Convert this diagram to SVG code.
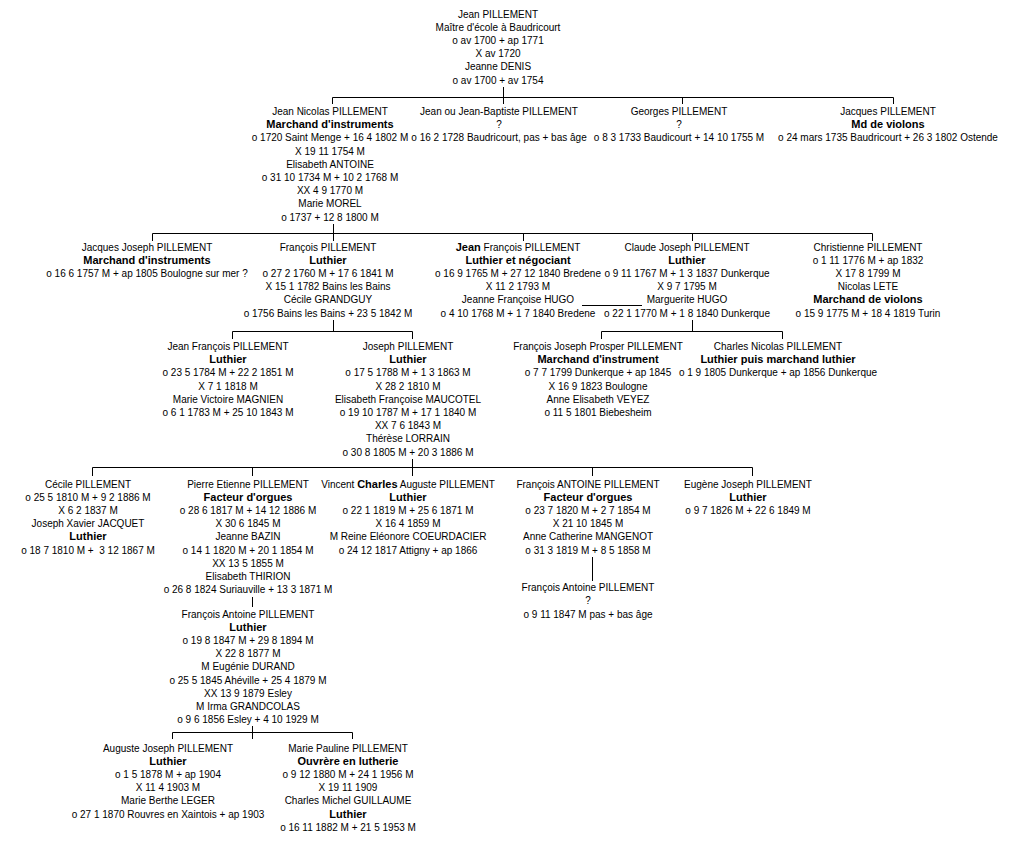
<svg xmlns="http://www.w3.org/2000/svg" width="1013" height="842" viewBox="0 0 1013 842">
<style>
text{font-family:"Liberation Sans",Arial,sans-serif;font-size:10px;fill:#000;text-anchor:middle}
.b{font-weight:bold;font-size:11px}
.c path{stroke:#000;stroke-width:1;fill:none}
</style>
<rect width="1013" height="842" fill="#fff"/>
<g class="c" id="connectors">
<path d="M503.5 87 V104 M332.5 104 V97.5 H893.5 V104 M682.5 97.5 V104"/>
<path d="M333.5 224 V241 M152.5 241 V233.5 H872.5 V241 M523.5 233.5 V241 M692.5 233.5 V241"/>
<path d="M333.5 320 V331.5 M232.5 339 V331.5 H412.5 V339"/>
<path d="M692.5 320 V331.5 M601.5 339 V331.5 H782.5 V339"/>
<path d="M582 305.5 H642"/>
<path d="M412.5 459 V476 M92.5 476 V467.5 H752.5 V476 M252.5 467.5 V476 M592.5 467.5 V476"/>
<path d="M592.5 557 V581"/>
<path d="M252.5 597 V607"/>
<path d="M252.5 726 V739 M172.5 739 V732.5 H352.5 V739"/>
</g>
<g id="n_jean">
<text x="498" y="17.5">Jean PILLEMENT</text>
<text x="498" y="30.7">Maître d'école à Baudricourt</text>
<text x="498" y="43.9">o av 1700 + ap 1771</text>
<text x="498" y="57.1">X av 1720</text>
<text x="498" y="70.3">Jeanne DENIS</text>
<text x="498" y="83.5">o av 1700 + av 1754</text>
</g>
<g id="n_jean_nicolas">
<text x="330" y="115">Jean Nicolas PILLEMENT</text>
<text x="330" y="128.2" class="b">Marchand d'instruments</text>
<text x="330" y="141.4">o 1720 Saint Menge + 16 4 1802 M</text>
<text x="330" y="154.6">X 19 11 1754 M</text>
<text x="330" y="167.8">Elisabeth ANTOINE</text>
<text x="330" y="181">o 31 10 1734 M + 10 2 1768 M</text>
<text x="330" y="194.2">XX 4 9 1770 M</text>
<text x="330" y="207.4">Marie MOREL</text>
<text x="330" y="220.6">o 1737 + 12 8 1800 M</text>
</g>
<g id="n_jean_baptiste">
<text x="499" y="115">Jean ou Jean-Baptiste PILLEMENT</text>
<text x="499" y="128.2">?</text>
<text x="499" y="141.4">o 16 2 1728 Baudricourt, pas + bas âge</text>
</g>
<g id="n_georges">
<text x="679" y="115">Georges PILLEMENT</text>
<text x="679" y="128.2">?</text>
<text x="679" y="141.4">o 8 3 1733 Baudicourt + 14 10 1755 M</text>
</g>
<g id="n_jacques">
<text x="888" y="115">Jacques PILLEMENT</text>
<text x="888" y="128.2" class="b">Md de violons</text>
<text x="888" y="141.4">o 24 mars 1735 Baudricourt + 26 3 1802 Ostende</text>
</g>
<g id="n_jacques_joseph">
<text x="147" y="250.5">Jacques Joseph PILLEMENT</text>
<text x="147" y="263.7" class="b">Marchand d'instruments</text>
<text x="147" y="276.9">o 16 6 1757 M + ap 1805 Boulogne sur mer ?</text>
</g>
<g id="n_francois">
<text x="328" y="250.5">François PILLEMENT</text>
<text x="328" y="263.7" class="b">Luthier</text>
<text x="328" y="276.9">o 27 2 1760 M + 17 6 1841 M</text>
<text x="328" y="290.1">X 15 1 1782 Bains les Bains</text>
<text x="328" y="303.3">Cécile GRANDGUY</text>
<text x="328" y="316.5">o 1756 Bains les Bains + 23 5 1842 M</text>
</g>
<g id="n_jean_francois">
<text x="518" y="250.5"><tspan class="b">Jean</tspan> François PILLEMENT</text>
<text x="518" y="263.7" class="b">Luthier et négociant</text>
<text x="518" y="276.9">o 16 9 1765 M + 27 12 1840 Bredene</text>
<text x="518" y="290.1">X 11 2 1793 M</text>
<text x="518" y="303.3">Jeanne Françoise HUGO</text>
<text x="518" y="316.5">o 4 10 1768 M + 1 7 1840 Bredene</text>
</g>
<g id="n_claude_joseph">
<text x="687" y="250.5">Claude Joseph PILLEMENT</text>
<text x="687" y="263.7" class="b">Luthier</text>
<text x="687" y="276.9">o 9 11 1767 M + 1 3 1837 Dunkerque</text>
<text x="687" y="290.1">X 9 7 1795 M</text>
<text x="687" y="303.3">Marguerite HUGO</text>
<text x="687" y="316.5">o 22 1 1770 M + 1 8 1840 Dunkerque</text>
</g>
<g id="n_christienne">
<text x="868" y="250.5">Christienne PILLEMENT</text>
<text x="868" y="263.7">o 1 11 1776 M + ap 1832</text>
<text x="868" y="276.9">X 17 8 1799 M</text>
<text x="868" y="290.1">Nicolas LETE</text>
<text x="868" y="303.3" class="b">Marchand de violons</text>
<text x="868" y="316.5">o 15 9 1775 M + 18 4 1819 Turin</text>
</g>
<g id="n_jean_francois2">
<text x="228" y="350">Jean François PILLEMENT</text>
<text x="228" y="363.2" class="b">Luthier</text>
<text x="228" y="376.4">o 23 5 1784 M + 22 2 1851 M</text>
<text x="228" y="389.6">X 7 1 1818 M</text>
<text x="228" y="402.8">Marie Victoire MAGNIEN</text>
<text x="228" y="416">o 6 1 1783 M + 25 10 1843 M</text>
</g>
<g id="n_joseph">
<text x="408" y="350">Joseph PILLEMENT</text>
<text x="408" y="363.2" class="b">Luthier</text>
<text x="408" y="376.4">o 17 5 1788 M + 1 3 1863 M</text>
<text x="408" y="389.6">X 28 2 1810 M</text>
<text x="408" y="402.8">Elisabeth Françoise MAUCOTEL</text>
<text x="408" y="416">o 19 10 1787 M + 17 1 1840 M</text>
<text x="408" y="429.2">XX 7 6 1843 M</text>
<text x="408" y="442.4">Thérèse LORRAIN</text>
<text x="408" y="455.6">o 30 8 1805 M + 20 3 1886 M</text>
</g>
<g id="n_fjp">
<text x="598" y="350">François Joseph Prosper PILLEMENT</text>
<text x="598" y="363.2" class="b">Marchand d'instrument</text>
<text x="598" y="376.4">o 7 7 1799 Dunkerque + ap 1845</text>
<text x="598" y="389.6">X 16 9 1823 Boulogne</text>
<text x="598" y="402.8">Anne Elisabeth VEYEZ</text>
<text x="598" y="416">o 11 5 1801 Biebesheim</text>
</g>
<g id="n_charles_nicolas">
<text x="778" y="350">Charles Nicolas PILLEMENT</text>
<text x="778" y="363.2" class="b">Luthier puis marchand luthier</text>
<text x="778" y="376.4">o 1 9 1805 Dunkerque + ap 1856 Dunkerque</text>
</g>
<g id="n_cecile">
<text x="88" y="487.5">Cécile PILLEMENT</text>
<text x="88" y="500.7">o 25 5 1810 M + 9 2 1886 M</text>
<text x="88" y="513.9">X 6 2 1837 M</text>
<text x="88" y="527.1">Joseph Xavier JACQUET</text>
<text x="88" y="540.3" class="b">Luthier</text>
<text x="88" y="553.5" xml:space="preserve">o 18 7 1810 M +  3 12 1867 M</text>
</g>
<g id="n_pierre_etienne">
<text x="248" y="487.5">Pierre Etienne PILLEMENT</text>
<text x="248" y="500.7" class="b">Facteur d'orgues</text>
<text x="248" y="513.9">o 28 6 1817 M + 14 12 1886 M</text>
<text x="248" y="527.1">X 30 6 1845 M</text>
<text x="248" y="540.3">Jeanne BAZIN</text>
<text x="248" y="553.5">o 14 1 1820 M + 20 1 1854 M</text>
<text x="248" y="566.7">XX 13 5 1855 M</text>
<text x="248" y="579.9">Elisabeth THIRION</text>
<text x="248" y="593.1">o 26 8 1824 Suriauville + 13 3 1871 M</text>
</g>
<g id="n_vincent">
<text x="408" y="487.5">Vincent <tspan class="b">Charles</tspan> Auguste PILLEMENT</text>
<text x="408" y="500.7" class="b">Luthier</text>
<text x="408" y="513.9">o 22 1 1819 M + 25 6 1871 M</text>
<text x="408" y="527.1">X 16 4 1859 M</text>
<text x="408" y="540.3">M Reine Eléonore COEURDACIER</text>
<text x="408" y="553.5">o 24 12 1817 Attigny + ap 1866</text>
</g>
<g id="n_francois_antoine_of">
<text x="588" y="487.5">François ANTOINE PILLEMENT</text>
<text x="588" y="500.7" class="b">Facteur d'orgues</text>
<text x="588" y="513.9">o 23 7 1820 M + 2 7 1854 M</text>
<text x="588" y="527.1">X 21 10 1845 M</text>
<text x="588" y="540.3">Anne Catherine MANGENOT</text>
<text x="588" y="553.5">o 31 3 1819 M + 8 5 1858 M</text>
</g>
<g id="n_eugene">
<text x="748" y="487.5">Eugène Joseph PILLEMENT</text>
<text x="748" y="500.7" class="b">Luthier</text>
<text x="748" y="513.9">o 9 7 1826 M + 22 6 1849 M</text>
</g>
<g id="n_francois_antoine_child">
<text x="588" y="591.2">François Antoine PILLEMENT</text>
<text x="588" y="604.4">?</text>
<text x="588" y="617.6">o 9 11 1847 M pas + bas âge</text>
</g>
<g id="n_francois_antoine_luthier">
<text x="248" y="617.5">François Antoine PILLEMENT</text>
<text x="248" y="630.7" class="b">Luthier</text>
<text x="248" y="643.9">o 19 8 1847 M + 29 8 1894 M</text>
<text x="248" y="657.1">X 22 8 1877 M</text>
<text x="248" y="670.3">M Eugénie DURAND</text>
<text x="248" y="683.5">o 25 5 1845 Ahéville + 25 4 1879 M</text>
<text x="248" y="696.7">XX 13 9 1879 Esley</text>
<text x="248" y="709.9">M Irma GRANDCOLAS</text>
<text x="248" y="723.1">o 9 6 1856 Esley + 4 10 1929 M</text>
</g>
<g id="n_auguste_joseph">
<text x="168" y="751.5">Auguste Joseph PILLEMENT</text>
<text x="168" y="764.7" class="b">Luthier</text>
<text x="168" y="777.9">o 1 5 1878 M + ap 1904</text>
<text x="168" y="791.1">X 11 4 1903 M</text>
<text x="168" y="804.3">Marie Berthe LEGER</text>
<text x="168" y="817.5">o 27 1 1870 Rouvres en Xaintois + ap 1903</text>
</g>
<g id="n_marie_pauline">
<text x="348" y="751.5">Marie Pauline PILLEMENT</text>
<text x="348" y="764.7" class="b">Ouvrère en lutherie</text>
<text x="348" y="777.9">o 9 12 1880 M + 24 1 1956 M</text>
<text x="348" y="791.1">X 19 11 1909</text>
<text x="348" y="804.3">Charles Michel GUILLAUME</text>
<text x="348" y="817.5" class="b">Luthier</text>
<text x="348" y="830.7">o 16 11 1882 M + 21 5 1953 M</text>
</g>
</svg>
